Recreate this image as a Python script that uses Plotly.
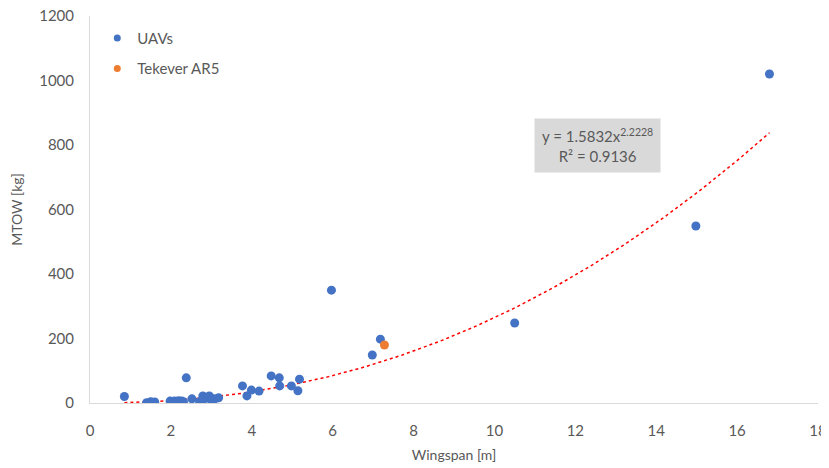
import numpy as np
import plotly.graph_objects as go

# UAV data (wingspan [m], MTOW [kg])
uav_span = [0.85, 1.40, 1.50, 1.60, 1.98, 2.09, 2.19, 2.27, 2.31, 2.38, 2.52, 2.71,
            2.79, 2.87, 2.95, 3.01, 3.09, 3.18, 2.80, 3.00, 3.77, 3.88, 3.99, 4.18,
            4.48, 4.68, 4.69, 4.98, 5.14, 5.18, 5.97, 6.98, 7.18, 10.5, 14.98, 16.8]
uav_mtow = [20, 1, 4, 3, 6, 6, 7, 6, 4, 78, 13, 4,
            22, 16, 22, 13, 13, 16, 10, 8, 53, 22, 40, 37,
            84, 78, 53, 53, 38, 74, 350, 149, 198, 248, 549, 1020]

ar5_span = [7.28]
ar5_mtow = [180]

# Power-law trendline parameters (as stated in the chart)
fit_a = 1.5832
fit_b = 2.2228
fit_r2 = 0.9136

xs = np.linspace(min(uav_span), max(uav_span), 200)
ys = fit_a * xs ** fit_b

font_family = "Lato, 'Open Sans', sans-serif"
grey = "#595959"
blue = "#4472C4"
orange = "#ED7D31"

fig = go.Figure()
fig.add_trace(go.Scatter(x=xs, y=ys, mode="lines", showlegend=False,
                         line=dict(color="#FF0000", width=1.5, dash="dot"),
                         hoverinfo="skip"))
fig.add_trace(go.Scatter(x=uav_span, y=uav_mtow, mode="markers", name="UAVs",
                         showlegend=False, marker=dict(color=blue, size=9)))
fig.add_trace(go.Scatter(x=ar5_span, y=ar5_mtow, mode="markers", name="Tekever AR5",
                         showlegend=False, marker=dict(color=orange, size=9)))
# legend entries (smaller markers as in the reference)
fig.add_trace(go.Scatter(x=[None], y=[None], mode="markers", name="UAVs",
                         legendgroup="g1", marker=dict(color=blue, size=7)))
fig.add_trace(go.Scatter(x=[None], y=[None], mode="markers", name="Tekever AR5",
                         legendgroup="g2", marker=dict(color=orange, size=7)))

fig.add_annotation(x=12.55, y=800, xref="x", yref="y",
                   text=f"y = {fit_a}x<sup>{fit_b}</sup><br>R² = {fit_r2}",
                   showarrow=False, bgcolor="#D9D9D9", borderpad=7,
                   font=dict(family=font_family, size=15, color=grey), align="center")

# page body has an 8px margin, so the figure is offset by 8px
fig.update_layout(
    width=821, height=460,
    margin=dict(l=82, r=11, t=8, b=65),
    paper_bgcolor="white", plot_bgcolor="white",
    font=dict(family=font_family, size=14, color=grey),
    legend=dict(x=0.01, y=0.985, xanchor="left", yanchor="top",
                font=dict(size=15, color=grey), itemwidth=30,
                tracegroupgap=8, bgcolor="rgba(0,0,0,0)"),
    xaxis=dict(range=[0, 18], dtick=2, showgrid=False, zeroline=False,
               showline=True, linecolor="#D9D9D9", linewidth=1, automargin=False,
               ticklabeloverflow="allow", ticklabelstandoff=14, tickfont=dict(size=15),
               ticks="", title=dict(text="Wingspan [m]", standoff=12,
                                    font=dict(size=14, color=grey))),
    yaxis=dict(range=[0, 1200], dtick=200, showgrid=False, zeroline=False,
               showline=True, linecolor="#D9D9D9", linewidth=1, automargin=False,
               ticklabeloverflow="allow", ticklabelstandoff=12, tickfont=dict(size=15),
               ticks="", title=dict(text="MTOW [kg]", standoff=14,
                                    font=dict(size=14, color=grey))),
)

fig.write_html("out.html")
